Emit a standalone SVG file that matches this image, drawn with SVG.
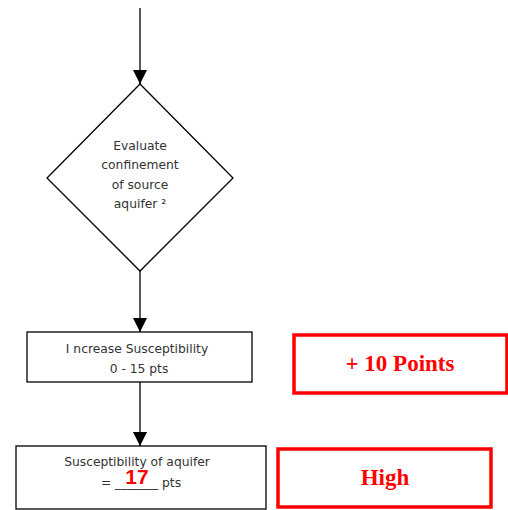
<svg xmlns="http://www.w3.org/2000/svg" width="508" height="510" viewBox="0 0 508 510">
<defs>
<style>
.shape{fill:#fff;stroke:#000;stroke-width:1.3}
.red{fill:#fff;stroke:#f00;stroke-width:3.5}
.t{font-family:"DejaVu Sans",Verdana,sans-serif;font-size:12.3px;fill:#333;text-anchor:middle}
.rt{font-family:"Liberation Serif","Times New Roman",serif;font-size:23px;font-weight:bold;fill:#f00;text-anchor:middle}
.conn{stroke:#000;stroke-width:1.3;fill:none}
</style>
</defs>
<rect width="508" height="510" fill="#fff"/>
<g id="connectors">
<line class="conn" x1="140" y1="8" x2="140" y2="84"/>
<path d="M133,70 L147,70 L140,84 Z" fill="#000"/>
<line class="conn" x1="140" y1="271" x2="140" y2="332"/>
<path d="M133,318 L147,318 L140,332 Z" fill="#000"/>
<line class="conn" x1="140" y1="382" x2="140" y2="446"/>
<path d="M133,432 L147,432 L140,446 Z" fill="#000"/>
</g>
<g id="evaluate">
<polygon class="shape" points="140,84 233,178 140,271 47,178"/>
<text class="t" x="140" y="150">Evaluate</text>
<text class="t" x="140" y="169">confinement</text>
<text class="t" x="140" y="189">of source</text>
<text class="t" x="140" y="208">aquifer ²</text>
</g>
<g id="increase">
<rect class="shape" x="27" y="332" width="225" height="50"/>
<text class="t" x="137" y="353">I ncrease Susceptibility</text>
<text class="t" x="139" y="373">0 - 15 pts</text>
</g>
<g id="result">
<rect class="shape" x="16" y="446" width="250" height="63"/>
<text class="t" x="137" y="466">Susceptibility of aquifer</text>
<text class="t" x="141" y="487">= _______ pts</text>
<text x="137" y="484" style="font-family:'Liberation Sans',Arial,sans-serif;font-size:21px;font-weight:bold;fill:#f00;text-anchor:middle">17</text>
</g>
<g id="points">
<rect class="red" x="294" y="335" width="213" height="58"/>
<text class="rt" x="400" y="371">+ 10 Points</text>
</g>
<g id="high">
<rect class="red" x="278" y="449" width="213" height="58"/>
<text class="rt" x="385" y="485">High</text>
</g>
</svg>
